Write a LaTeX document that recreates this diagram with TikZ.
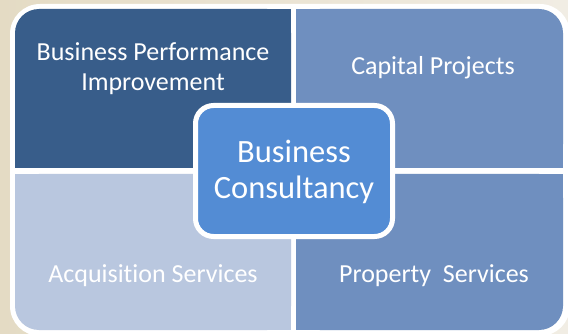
\documentclass[tikz,border=0pt]{standalone}
\usepackage{fontspec}
\setmainfont[Ligatures=NoCommon]{Carlito}
\definecolor{bgL}{RGB}{228,219,196}
\definecolor{bgR}{RGB}{241,237,228}
\definecolor{qTL}{RGB}{56,93,138}
\definecolor{qTR}{RGB}{111,143,191}
\definecolor{qBL}{RGB}{185,199,223}
\definecolor{qBR}{RGB}{111,143,191}
\definecolor{qC}{RGB}{83,140,212}
\tikzset{
  lbl/.style={text=white, inner sep=0pt, anchor=base, font=\fontsize{26}{30}\selectfont},
  biglbl/.style={text=white, inner sep=0pt, anchor=base, font=\fontsize{32.5}{36}\selectfont},
  centrebox/.style={draw=white, line width=5pt, fill=qC, rounded corners=18pt, inner sep=0pt}
}
\begin{document}
\begin{tikzpicture}[x=1pt,y=-1pt]
\useasboundingbox (0,0) rectangle (568,334);
% background
\shade[left color=bgL, right color=bgR] (0,0) rectangle (568,334);
% white frame
\fill[white, rounded corners=30pt] (10,4) rectangle (570,336);
% top-left quadrant
\fill[qTL, rounded corners=24pt] (15,9) rectangle (291,168);
\fill[qTL] (45,9) rectangle (291,168);
\fill[qTL] (15,39) rectangle (291,168);
% top-right quadrant
\fill[qTR, rounded corners=24pt] (296,9) rectangle (563,168);
\fill[qTR] (296,9) rectangle (533,168);
\fill[qTR] (296,39) rectangle (563,168);
% bottom-left quadrant
\fill[qBL, rounded corners=24pt] (15,174) rectangle (291,330);
\fill[qBL] (45,174) rectangle (291,330);
\fill[qBL] (15,174) rectangle (291,300);
% bottom-right quadrant
\fill[qBR, rounded corners=24pt] (296,174) rectangle (563,330);
\fill[qBR] (296,174) rectangle (533,330);
\fill[qBR] (296,174) rectangle (563,300);
% labels
\node[lbl] (tl1) at (153,61) {Business Performance};
\node[lbl] (tl2) at (153,91) {Improvement};
\node[lbl] (tr) at (433,75) {Capital Projects};
\node[lbl] (bl) at (153,282) {Acquisition Services};
\node[lbl] (br) at (434,282) {Property\ \ Services};
% centre
\node[centrebox, minimum width=197pt, minimum height=131pt] (centre) at (294,171) {};
\node[biglbl] (c1) at (294,163) {Business};
\node[biglbl] (c2) at (294,199) {Consultancy};
\end{tikzpicture}
\end{document}
